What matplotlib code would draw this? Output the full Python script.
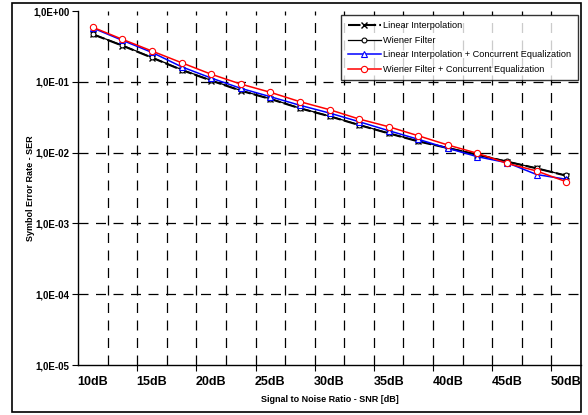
import numpy as np
import matplotlib.pyplot as plt
from matplotlib.patches import Rectangle

plt.rcParams['font.family'] = ['Liberation Sans', 'DejaVu Sans']

# SNR points (dB), every 2.5 dB
snr = [10, 12.5, 15, 17.5, 20, 22.5, 25, 27.5, 30, 32.5, 35, 37.5, 40, 42.5, 45, 47.5, 50]
snr_labels = ['10dB', '15dB', '20dB', '25dB', '30dB', '35dB', '40dB', '45dB', '50dB']

ser_linear = [0.469, 0.324, 0.219, 0.147, 0.104, 0.0749, 0.0572, 0.0422, 0.0326,
              0.0245, 0.0187, 0.0144, 0.0116, 0.0093, 0.00745, 0.0060, 0.00472]
ser_wiener = [0.472, 0.327, 0.221, 0.149, 0.105, 0.0755, 0.0576, 0.0425, 0.0328,
              0.0247, 0.0188, 0.0145, 0.0117, 0.0094, 0.0075, 0.0060, 0.00475]
ser_linear_ce = [0.575, 0.385, 0.260, 0.163, 0.113, 0.0809, 0.0616, 0.0466, 0.0362,
                 0.0273, 0.0204, 0.0154, 0.0115, 0.00875, 0.0072, 0.0049, 0.0042]
ser_wiener_ce = [0.589, 0.398, 0.272, 0.186, 0.128, 0.093, 0.0711, 0.0524, 0.0404,
                 0.0298, 0.0232, 0.0173, 0.0128, 0.00977, 0.00706, 0.0055, 0.00388]

y_ticks = [1e0, 1e-1, 1e-2, 1e-3, 1e-4, 1e-5]
y_labels = ['1,0E+00', '1,0E-01', '1,0E-02', '1,0E-03', '1,0E-04', '1,0E-05']

fig = plt.figure(figsize=(5.88, 4.15), dpi=100)
ax = fig.add_axes([78/588, 1-365/415, 503/588, 354/415])

x = np.arange(len(snr))
dash = (0, (8, 6))

# grid: horizontal at decades, vertical between categories
for yv in y_ticks[1:-1]:
    ax.axhline(yv, color='black', lw=0.9, ls=dash, zorder=1)
for b in np.arange(0.5, len(snr) - 1, 1.0):
    ax.axvline(b, color='black', lw=0.9, ls=dash, zorder=1)

ax.plot(x, ser_linear, color='black', lw=1.5, ls=(0, (6, 1.5)), marker='x', ms=4.5,
        mew=1.0, label='Linear Interpolation', zorder=3)
ax.plot(x, ser_wiener, color='black', lw=0.9, marker='o', ms=3.5, mfc='white',
        mew=0.8, label='Wiener Filter', zorder=3)
ax.plot(x, ser_linear_ce, color='blue', lw=1.1, marker='^', ms=4.5, mfc='white',
        mew=0.8, label='Linear Interpolation + Concurrent Equalization', zorder=4)
ax.plot(x, ser_wiener_ce, color='red', lw=1.1, marker='o', ms=4.5, mfc='white',
        mew=0.8, label='Wiener Filter + Concurrent Equalization', zorder=5)

ax.set_yscale('log')
ax.set_ylim(1e-5, 1)
ax.set_xlim(-0.5, len(snr) - 0.5)
ax.set_yticks(y_ticks)
ax.set_yticklabels(y_labels, fontsize=7, fontweight='bold')
ax.yaxis.set_minor_locator(plt.NullLocator())
ax.tick_params(axis='y', direction='out', length=4, width=0.8, pad=2)

ax.set_xticks(x[::2])
ax.set_xticklabels(snr_labels, fontsize=9, fontweight='bold')
ax.tick_params(axis='x', which='major', length=0, pad=8)
ax.set_xticks(np.arange(1.5, len(snr) - 1, 2.0), minor=True)
ax.tick_params(axis='x', which='minor', direction='out', length=4, width=0.8)

for s in ['top', 'right']:
    ax.spines[s].set_visible(False)
ax.spines['left'].set_linewidth(1.0)
ax.spines['bottom'].set_linewidth(1.0)

ax.set_xlabel('Signal to Noise Ratio - SNR [dB]', fontsize=6.5, fontweight='bold', labelpad=5)
ax.set_ylabel('Symbol Error Rate - SER', fontsize=6.5, fontweight='bold', labelpad=-1)

leg = ax.legend(loc='upper right', bbox_to_anchor=(578/588, 1-15/415), bbox_transform=fig.transFigure,
                fontsize=6.6, frameon=True, fancybox=False, edgecolor='black', borderpad=0.7,
                handlelength=3.6, labelspacing=0.6, handletextpad=0.3, borderaxespad=0)
leg.get_frame().set_linewidth(1.0)

# chart outer border
fig.patches.append(Rectangle((12/588, 3/415), 569/588, 409/415, transform=fig.transFigure,
                             fill=False, edgecolor='black', lw=1.2))

fig.savefig('out.png', dpi=100)
